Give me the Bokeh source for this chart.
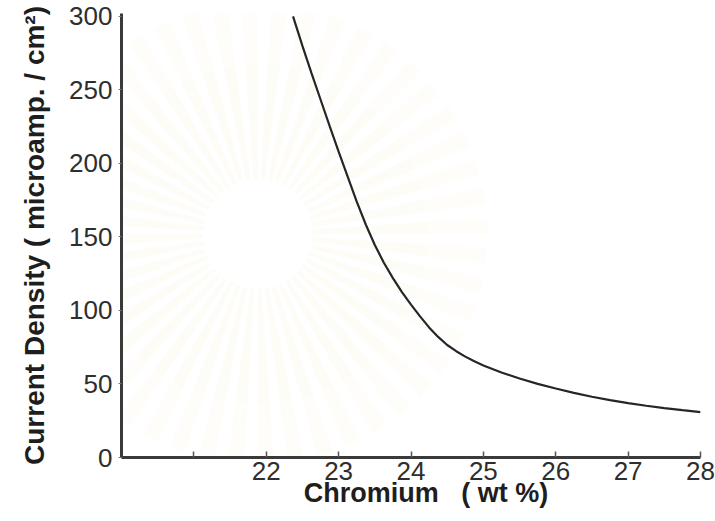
import numpy as np
from bokeh.plotting import figure
from bokeh.models import FixedTicker, Range1d
from bokeh.embed import file_html
from bokeh.resources import INLINE

# Corrosion current density versus chromium content
chromium_wt = [22.37, 22.5, 22.625, 22.75, 22.875, 23.0, 23.125, 23.25, 23.375, 23.5,
               23.625, 23.75, 23.875, 24.0, 24.125, 24.25, 24.375, 24.5, 24.625, 24.75,
               24.875, 25.0, 25.25, 25.5, 25.75, 26.0, 26.25, 26.5, 26.75, 27.0,
               27.25, 27.5, 27.75, 28.0]
current_density = [300, 280, 261.5, 243.5, 225.5, 208, 191, 174, 158.5, 144.5,
                   132.5, 122, 112.5, 104, 96, 88.5, 82, 76.5, 72.3, 68.6,
                   65.4, 62.6, 57.8, 53.7, 50.1, 46.9, 44.0, 41.3, 39.0, 37.0,
                   35.2, 33.6, 32.2, 30.9]

x_ticks = [21, 22, 23, 24, 25, 26, 27, 28]
x_tick_labels = {21: "", 22: "22", 23: "23", 24: "24", 25: "25", 26: "26", 27: "27", 28: "28"}
y_ticks = [0, 50, 100, 150, 200, 250, 300]

AXIS_COLOR = "#3a3a3a"
TEXT_COLOR = "#2e2e2e"

p = figure(width=715, height=521, output_backend="svg", toolbar_location=None,
           x_range=Range1d(20, 28), y_range=Range1d(0, 302),
           min_border_left=121, min_border_right=15, min_border_top=13, min_border_bottom=64)

p.background_fill_color = "white"
p.border_fill_color = "white"
p.outline_line_color = None
p.xgrid.visible = False
p.ygrid.visible = False

# faint sunburst emblem behind the plot
n_rays = 48
angles = np.linspace(0, 2 * np.pi, n_rays, endpoint=False)
step = 2 * np.pi / n_rays
p.annular_wedge(x=21.88, y=152, inner_radius=55, outer_radius=170,
                inner_radius_units="screen", outer_radius_units="screen",
                start_angle=angles, end_angle=angles + step * 0.55,
                fill_color="#f3e6bb", fill_alpha=0.13, line_color=None)
p.annular_wedge(x=21.88, y=152, inner_radius=170, outer_radius=230,
                inner_radius_units="screen", outer_radius_units="screen",
                start_angle=angles, end_angle=angles + step * 0.55,
                fill_color="#f3e6bb", fill_alpha=0.07, line_color=None)

p.line(chromium_wt, current_density, line_color="#262626", line_width=2.2)

# x axis
xa = p.xaxis[0]
xa.ticker = FixedTicker(ticks=x_ticks)
xa.major_label_overrides = x_tick_labels
xa.axis_line_color = AXIS_COLOR
xa.axis_line_width = 3
xa.major_tick_in = 6
xa.major_tick_out = 0
xa.major_tick_line_color = "#555555"
xa.major_tick_line_width = 1.5
xa.minor_tick_line_color = None
xa.major_label_text_font = "Liberation Sans"
xa.major_label_text_font_size = "26px"
xa.major_label_text_color = TEXT_COLOR
xa.major_label_standoff = 4
xa.axis_label = "\u00a0\u00a0\u00a0\u00a0Chromium\u00a0\u00a0\u00a0( wt %)"
xa.axis_label_text_font = "Liberation Sans"
xa.axis_label_text_font_style = "bold"
xa.axis_label_text_font_size = "27px"
xa.axis_label_text_color = "#1e1e1e"
xa.axis_label_standoff = -5

# y axis
ya = p.yaxis[0]
ya.ticker = FixedTicker(ticks=y_ticks)
ya.axis_line_color = AXIS_COLOR
ya.axis_line_width = 3
ya.major_tick_in = 0
ya.major_tick_out = 3
ya.major_tick_line_color = "#777777"
ya.minor_tick_line_color = None
ya.major_label_text_font = "Liberation Sans"
ya.major_label_text_font_size = "26px"
ya.major_label_text_color = TEXT_COLOR
ya.major_label_standoff = 6
ya.axis_label = "Current Density ( microamp. / cm²)"
ya.axis_label_text_font = "Liberation Sans"
ya.axis_label_text_font_style = "bold"
ya.axis_label_text_font_size = "28px"
ya.axis_label_text_color = "#1e1e1e"
ya.axis_label_standoff = 16

open("out.html", "w").write(file_html(p, INLINE))
